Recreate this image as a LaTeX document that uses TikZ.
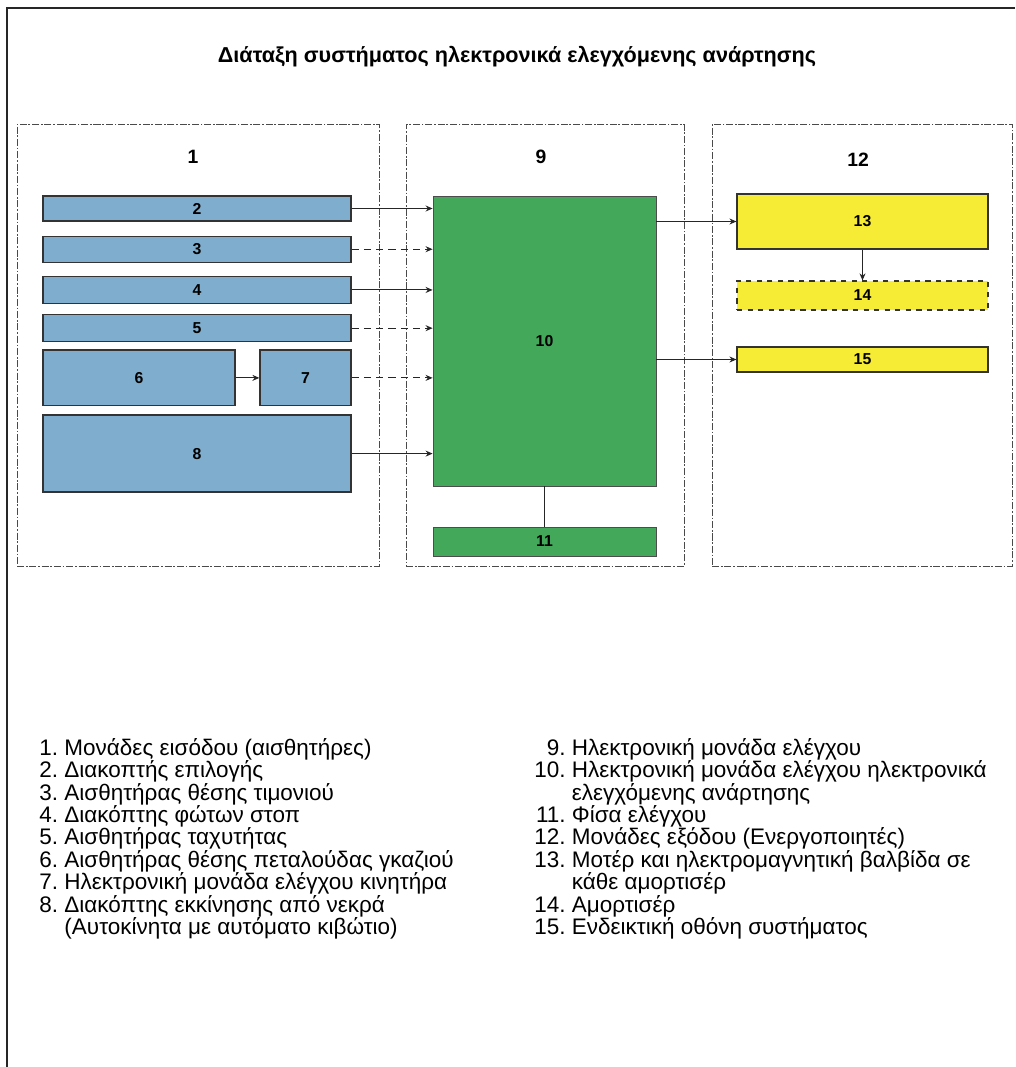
\documentclass[tikz,border=0pt]{standalone}
\usepackage{fontspec}
\setmainfont{Liberation Sans}
\usepackage{xcolor}
\usetikzlibrary{positioning,arrows.meta}
\definecolor{cmple}{HTML}{7FADCD}
\definecolor{cprasino}{HTML}{43A85A}
\definecolor{ckitrino}{HTML}{F6EC35}
\definecolor{cgkri}{HTML}{4A4A4A}
\newcommand{\arith}[2][1.39em]{\makebox[#1][r]{#2}\ }
\tikzset{
  omada/.style={rectangle, draw=cgkri, thin, dash pattern=on 4pt off 1pt on 1pt off 1pt,
    minimum height=8.84cm, inner sep=0pt},
  arithmos/.style={font=\bfseries\fontsize{11}{13}\selectfont},
  eisodos/.style={rectangle, draw=black!80, line width=0.7pt, fill=cmple,
    minimum width=6.16cm, minimum height=0.54cm, inner sep=0pt, font=\bfseries\fontsize{9}{11}\selectfont},
  elegxos/.style={rectangle, draw=black!70, line width=0.5pt, fill=cprasino,
    minimum width=4.46cm, inner sep=0pt, font=\bfseries\fontsize{9}{11}\selectfont},
  exodos/.style={rectangle, draw=black!80, line width=0.7pt, fill=ckitrino,
    minimum width=5.02cm, inner sep=0pt, font=\bfseries\fontsize{9}{11}\selectfont},
  velos/.style={-{Stealth[length=1.4mm, width=1.2mm]}, line width=0.6pt, draw=black!85},
  grammi/.style={line width=0.6pt, draw=black!85},
  spasto/.style={dash pattern=on 4pt off 3pt},
  leyenda/.style={inner sep=0pt, anchor=north west, align=left,
    font={\fontsize{12.8}{12.75}\selectfont\lineskiplimit=-20pt}},
}
\begin{document}
\begin{tikzpicture}[x=0.02cm, y=-0.02cm]
  \useasboundingbox (0,0) rectangle (1015,1067);
  % plaisio
  \draw[line width=1.1pt, black!85] (1015,8) -- (7,8) -- (7,1067);
  \node[font=\bfseries\fontsize{12.3}{14}\selectfont] (titlos) at (517,57)
    {Διάταξη συστήματος ηλεκτρονικά ελεγχόμενης ανάρτησης};

  % omades
  \node[omada, minimum width=7.24cm] (g1) at (198,345) {};
  \node[omada, minimum width=5.56cm] (g9) at (545,345) {};
  \node[omada, minimum width=6cm] (g12) at (862,345) {};
  \node[arithmos] (a1) at (193,157) {1};
  \node[arithmos] (a9) at (541,157) {9};
  \node[arithmos] (a12) at (858,160) {12};

  % eisodoi
  \node[eisodos, minimum height=0.5cm] (b2) at (197,208.5) {2};
  \node[eisodos, minimum height=0.52cm, below=0.28cm of b2] (b3) {3};
  \node[eisodos, below=0.26cm of b3] (b4) {4};
  \node[eisodos, below=0.2cm of b4] (b5) {5};
  \node[eisodos, minimum width=3.84cm, minimum height=1.12cm, below=0.14cm of b5.south west, anchor=north west] (b6) {6};
  \node[eisodos, minimum width=1.82cm, minimum height=1.12cm, below=0.14cm of b5.south east, anchor=north east] (b7) {7};
  \node[eisodos, minimum height=1.54cm, below=0.16cm of b6.south west, anchor=north west] (b8) {8};

  % monada elegxou
  \node[elegxos, minimum height=5.8cm] (b10) at (544.5,341) {10};
  \node[elegxos, minimum height=0.58cm] (b11) at (544.5,541.5) {11};

  % exodoi
  \node[exodos, minimum height=1.1cm] (b13) at (862.5,221.5) {13};
  \node[exodos, minimum height=0.58cm, dashed] (b14) at (862.5,295.5) {14};
  \node[exodos, minimum height=0.5cm] (b15) at (862.5,359.5) {15};

  % syndeseis
  \draw[velos] (b2.east) -- (b2.east -| b10.west);
  \draw[velos, spasto] (b3.east) -- (b3.east -| b10.west);
  \draw[velos] (b4.east) -- (b4.east -| b10.west);
  \draw[velos, spasto] (b5.east) -- (b5.east -| b10.west);
  \draw[velos, spasto] (b7.east) -- (b7.east -| b10.west);
  \draw[velos] (b8.east) -- (b8.east -| b10.west);
  \draw[velos] (b6) -- (b7);
  \draw[velos] (b13.west -| b10.east) -- (b13.west);
  \draw[velos] (b15.west -| b10.east) -- (b15.west);
  \draw[velos] (b13) -- (b14);
  \draw[grammi] (b10) -- (b11);

  % leyenda
  \node[leyenda] (leg1) at (39,738) {%
    \arith[0.84em]{1.}Μονάδες εισόδου (αισθητήρες)\\
    \arith[0.84em]{2.}Διακοπτής επιλογής\\
    \arith[0.84em]{3.}Αισθητήρας θέσης τιμονιού\\
    \arith[0.84em]{4.}Διακόπτης φώτων στοπ\\
    \arith[0.84em]{5.}Αισθητήρας ταχυτήτας\\
    \arith[0.84em]{6.}Αισθητήρας θέσης πεταλούδας γκαζιού\\
    \arith[0.84em]{7.}Ηλεκτρονική μονάδα ελέγχου κινητήρα\\
    \arith[0.84em]{8.}Διακόπτης εκκίνησης από νεκρά\\
    \arith[0.84em]{}(Αυτοκίνητα με αυτόματο κιβώτιο)};
  \node[leyenda] (leg2) at (534,738) {%
    \arith{9.}Ηλεκτρονική μονάδα ελέγχου\\
    \arith{10.}Ηλεκτρονική μονάδα ελέγχου ηλεκτρονικά\\
    \arith{}ελεγχόμενης ανάρτησης\\
    \arith{11.}Φίσα ελέγχου\\
    \arith{12.}Μονάδες εξόδου (Ενεργοποιητές)\\
    \arith{13.}Μοτέρ και ηλεκτρομαγνητική βαλβίδα σε\\
    \arith{}κάθε αμορτισέρ\\
    \arith{14.}Αμορτισέρ\\
    \arith{15.}Ενδεικτική οθόνη συστήματος};
\end{tikzpicture}
\end{document}
